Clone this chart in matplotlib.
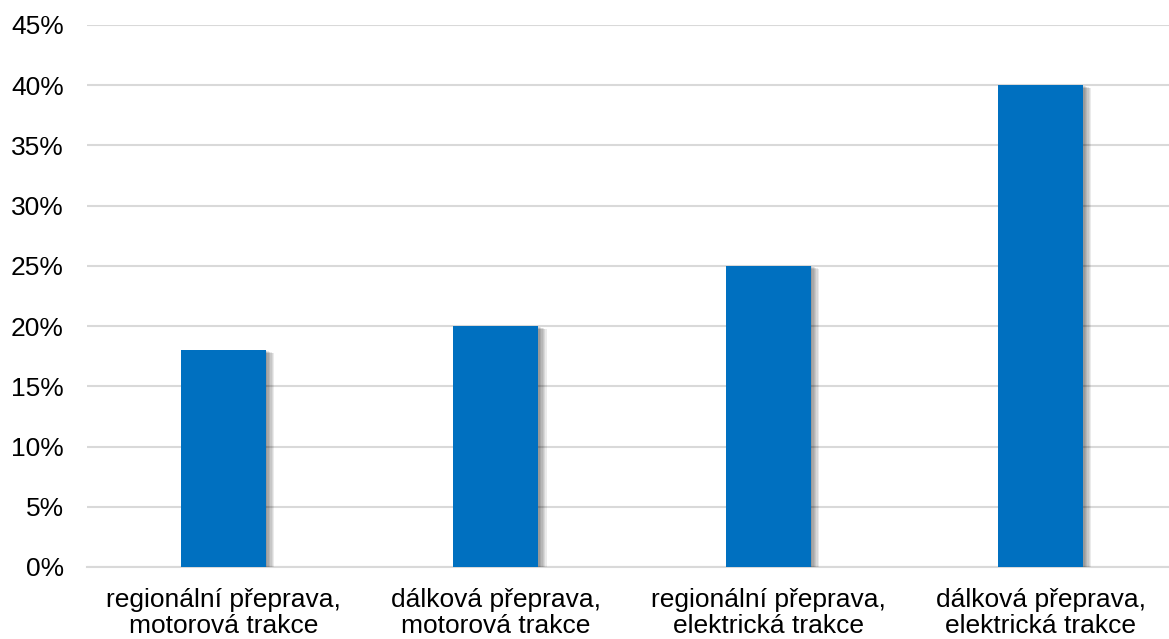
import matplotlib.pyplot as plt
import matplotlib.patheffects as pe
from matplotlib.ticker import FuncFormatter

# data
categories = ["regionální přeprava,\nmotorová trakce",
              "dálková přeprava,\nmotorová trakce",
              "regionální přeprava,\nelektrická trakce",
              "dálková přeprava,\nelektrická trakce"]
values = [18, 20, 25, 40]
yticks = [0, 5, 10, 15, 20, 25, 30, 35, 40, 45]

plt.rcParams['font.family'] = ['Liberation Sans', 'DejaVu Sans']

fig = plt.figure(figsize=(11.69, 6.39), dpi=100)
ax = fig.add_axes([0.0747, 0.1127, 0.932, 0.8482])

# soft shadow built from a few offset layers
shadow = [pe.SimplePatchShadow(offset=(o, -o * 0.35), shadow_rgbFace="black", alpha=0.08)
          for o in (1, 2, 3, 4, 5, 6)] + [pe.Normal()]

x = range(len(categories))
ax.bar(x, values, width=0.312, color="#0070C0", zorder=3, path_effects=shadow)

ax.set_xlim(-0.5, len(categories) - 0.5)
ax.set_ylim(0, 45)
ax.set_yticks(yticks)
ax.yaxis.set_major_formatter(FuncFormatter(lambda v, p: f"{v:.0f}%"))
ax.set_xticks(list(x))
ax.set_xticklabels(categories, fontsize=19, linespacing=1.12)
ax.tick_params(axis="y", labelsize=19, length=0, pad=17)
ax.tick_params(axis="x", length=0, pad=15)

ax.grid(axis="y", color="#D9D9D9", linewidth=1.5, zorder=0)
for s in ["top", "right", "left"]:
    ax.spines[s].set_visible(False)
ax.spines["bottom"].set_color("#D9D9D9")
ax.spines["bottom"].set_linewidth(1.5)

fig.savefig("out.png", dpi=100)
